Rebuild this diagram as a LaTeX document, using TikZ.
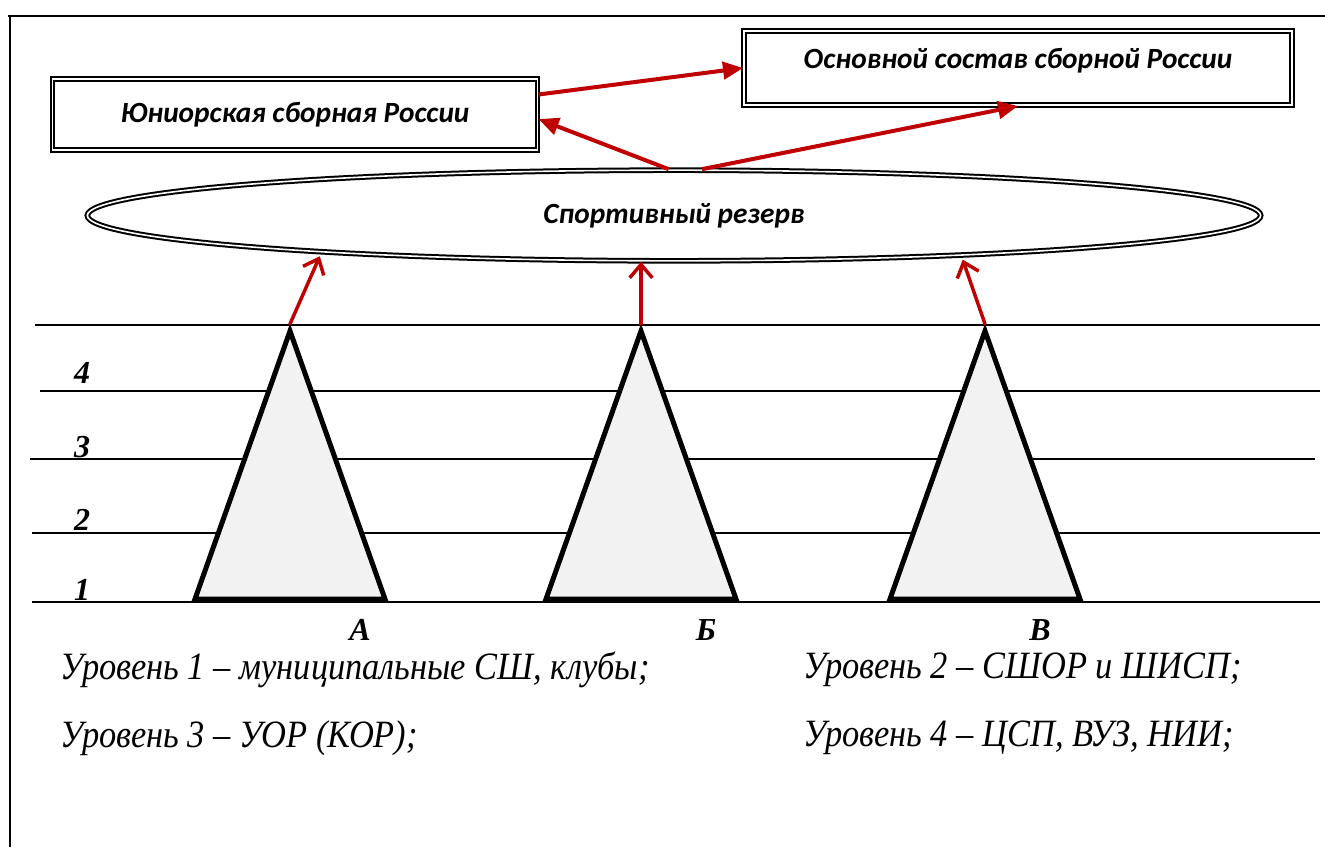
\documentclass[tikz,border=0pt]{standalone}
\usepackage{fontspec}
\setmainfont{Liberation Serif}
\newfontfamily\calfont{Carlito}
\newfontfamily\legfont[FakeStretch=0.89]{Liberation Serif}
\usetikzlibrary{shapes.geometric,arrows.meta}
\definecolor{darkred}{RGB}{192,0,0}
\definecolor{lightfill}{RGB}{242,242,242}
\tikzset{
  dblbox/.style={draw,line width=1.5pt,double=white,double distance=1.2pt,
    font=\calfont\bfseries\itshape\fontsize{22}{26}\selectfont},
  redarrow/.style={darkred,line width=3pt,-{Triangle[length=15pt,width=13pt]}},
  redbarb/.style={darkred,line width=2.6pt,line cap=round,-{Straight Barb[length=10pt,width=17pt]}},
  numlbl/.style={inner sep=0pt,font=\bfseries\itshape\fontsize{24}{28}\selectfont},
  legend/.style={anchor=west,inner sep=0pt,font=\legfont\itshape\fontsize{29}{34}\selectfont}
}
\begin{document}
\begin{tikzpicture}[x=0.75pt,y=-0.75pt]
\useasboundingbox (0,0) rectangle (1325,847);
\draw[line width=1.5pt] (8,16) -- (1325,16);
\draw[line width=1.5pt] (10,16) -- (10,847);

\node[dblbox,minimum width=364pt,minimum height=53pt] (jun) at (295,114.5) {Юниорская сборная России};
\node[dblbox,minimum width=411pt,minimum height=55.5pt,text depth=14pt] (osn) at (1018,68) {Основной состав сборной России};
\node[dblbox,ellipse,minimum width=880pt,minimum height=68pt] (rez) at (674,215.5) {Спортивный резерв};

\draw[redarrow] ([yshift=15pt]jun.east) -- (osn.west);
\draw[redarrow] ([xshift=-4pt]rez.north) -- ([yshift=-3.5pt]jun.east);
\draw[redarrow] ([xshift=21pt]rez.north) -- (osn.south);

\foreach \y/\a/\b in {325/35/1320,391/40/1320,459/30/1315,533/32/1320,602/32/1320}
    \draw[line width=1.5pt] (\a,\y) -- (\b,\y);
\foreach \y/\n in {373/4,447/3,520/2,590/1}
    \node[numlbl] (lev\n) at (82,\y) {\n};

\foreach \x/\l/\n [count=\i] in {290/360/А,641/706/Б,985/1040/В}{
    \draw[line width=3.75pt,fill=lightfill] (\x,331) -- (\x+95,599) -- (\x-95,599) -- cycle;
    \coordinate (apex\i) at (\x,324);
    \node[numlbl] (grp\i) at (\l,630) {\n};
}
\draw[redbarb,shorten >=3pt] (apex1) -- (rez.186.07);
\draw[redbarb] (apex2) -- (apex2 |- rez.south);
\draw[redbarb,shorten >=3pt] (apex3) -- (rez.-8.13);

\node[legend] (txt1) at (60,670) {Уровень 1 – муниципальные СШ, клубы;};
\node[legend] (txt2) at (803,670) {Уровень 2 – СШОР и ШИСП;};
\node[legend] (txt3) at (60,738) {Уровень 3 – УОР (КОР);};
\node[legend] (txt4) at (803,738) {Уровень 4 – ЦСП, ВУЗ, НИИ;};
\end{tikzpicture}
\end{document}
